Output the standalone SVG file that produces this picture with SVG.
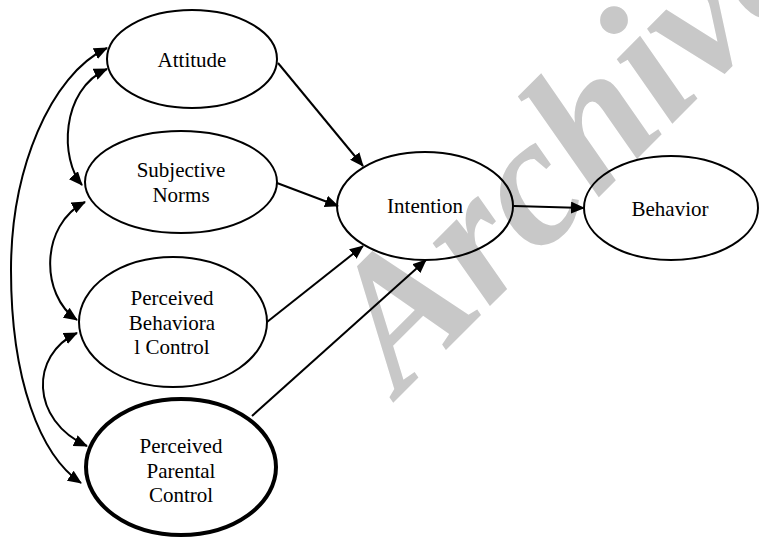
<svg xmlns="http://www.w3.org/2000/svg" width="759" height="541" viewBox="0 0 759 541">
<style>
.node{fill:none;stroke:#000;stroke-width:2}
.thick{stroke-width:4}
.lbl{font-family:"Liberation Serif","Times New Roman",serif;font-size:21px;fill:#000;text-anchor:middle}
.edge{fill:none;stroke:#000;stroke-width:2}
.wm{font-family:"Liberation Serif","Times New Roman",serif;font-weight:bold;font-style:italic;font-size:185px;fill:#c8c8c8}
</style>
<defs>
<marker id="ah" viewBox="0 0 14 12" refX="13" refY="6" markerWidth="14" markerHeight="12" markerUnits="userSpaceOnUse" orient="auto-start-reverse">
<path d="M0,0 L14,6 L0,12 z" fill="#000"/>
</marker>
</defs>
<rect width="759" height="541" fill="#fff"/>
<g id="watermark">
<text class="wm" transform="translate(400,396) rotate(-45)">Archive</text>
</g>
<g id="connectors">
<path class="edge" d="M107,48 C50,75 11,170 11,270 C11,380 40,455 81,483" marker-start="url(#ah)" marker-end="url(#ah)"/>
<path class="edge" d="M107,69 C60,90 60,160 82,185" marker-start="url(#ah)" marker-end="url(#ah)"/>
<path class="edge" d="M85,202 C40,225 40,295 77,320" marker-start="url(#ah)" marker-end="url(#ah)"/>
<path class="edge" d="M77,333 C30,355 30,420 87,446" marker-start="url(#ah)" marker-end="url(#ah)"/>
<path class="edge" d="M278,63 L363,166" marker-end="url(#ah)"/>
<path class="edge" d="M277,183 L338,206" marker-end="url(#ah)"/>
<path class="edge" d="M267,322 L363,246" marker-end="url(#ah)"/>
<path class="edge" d="M252,416 L426,260" marker-end="url(#ah)"/>
<path class="edge" d="M514,206 L584,208" marker-end="url(#ah)"/>
</g>
<g id="attitude">
<ellipse class="node" cx="192" cy="59" rx="85" ry="49"/>
<text class="lbl" x="192" y="67">Attitude</text>
</g>
<g id="subjective-norms">
<ellipse class="node" cx="181" cy="182" rx="96" ry="51"/>
<text class="lbl" x="181" y="177">Subjective</text>
<text class="lbl" x="181" y="202">Norms</text>
</g>
<g id="perceived-behavioral-control">
<ellipse class="node" cx="173" cy="322" rx="94" ry="65"/>
<text class="lbl" x="172" y="305">Perceived</text>
<text class="lbl" x="172" y="330">Behaviora</text>
<text class="lbl" x="172" y="354">l Control</text>
</g>
<g id="perceived-parental-control">
<ellipse class="node thick" cx="181" cy="467" rx="95" ry="68"/>
<text class="lbl" x="181" y="453">Perceived</text>
<text class="lbl" x="181" y="478">Parental</text>
<text class="lbl" x="181" y="502">Control</text>
</g>
<g id="intention">
<ellipse class="node" cx="425" cy="206" rx="88" ry="54"/>
<text class="lbl" x="425" y="213">Intention</text>
</g>
<g id="behavior">
<ellipse class="node" cx="671" cy="208" rx="87" ry="52"/>
<text class="lbl" x="670" y="216">Behavior</text>
</g>
</svg>
